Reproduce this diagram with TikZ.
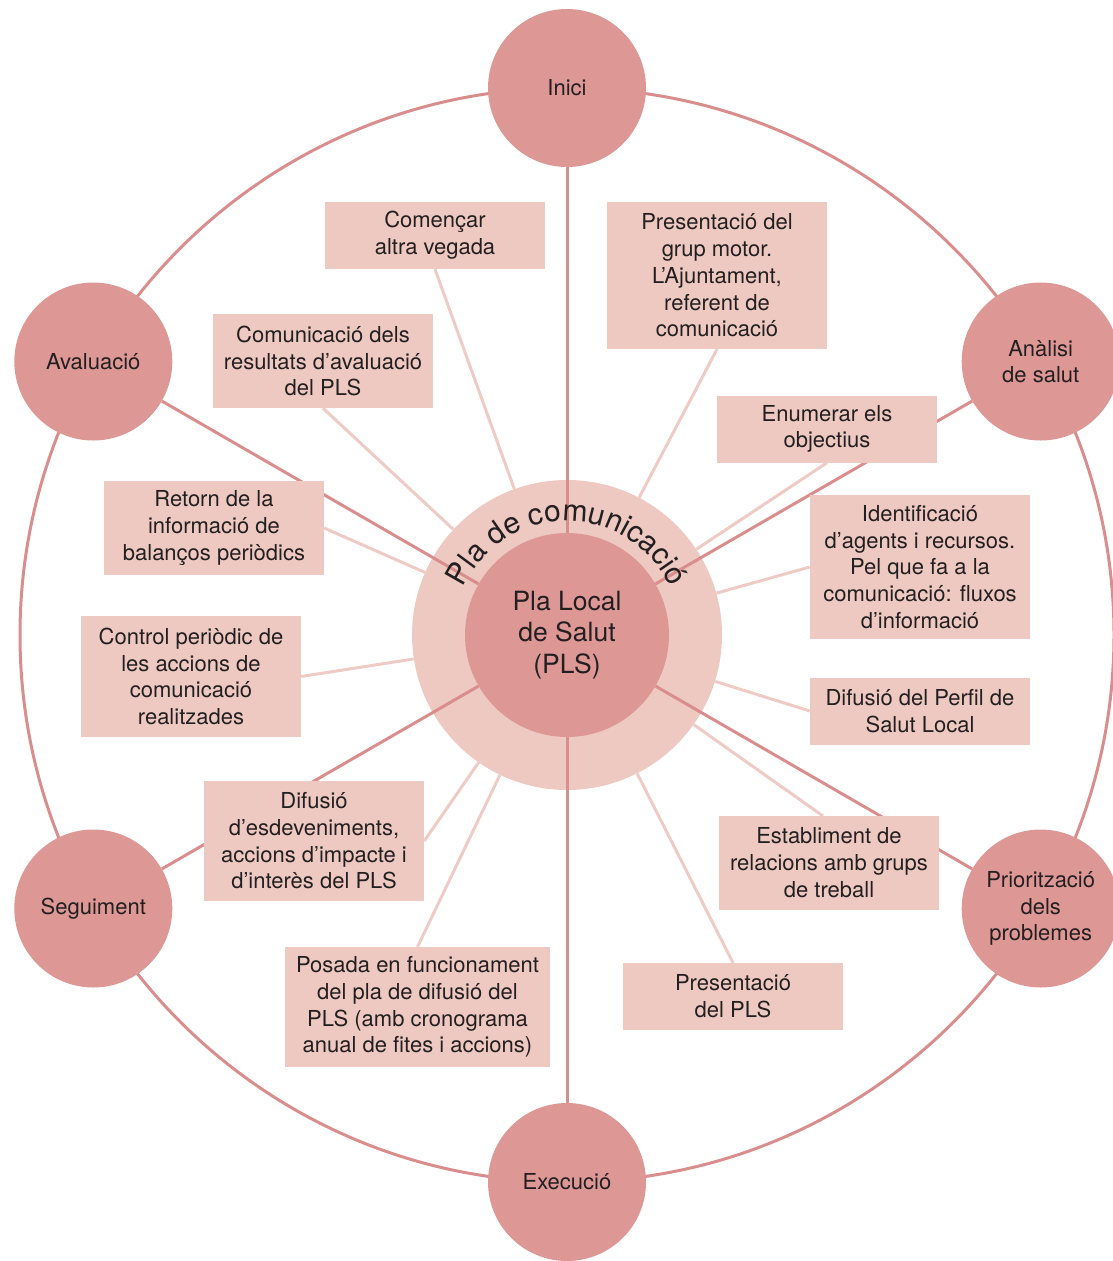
\documentclass[tikz,border=0pt]{standalone}
\usepackage{fontspec}
\setmainfont{TeX Gyre Heros}
\usetikzlibrary{decorations.text}
\definecolor{circfill}{HTML}{DD9896}
\definecolor{lightfill}{HTML}{EEC9C2}
\definecolor{darkline}{HTML}{D98E8D}
\definecolor{lightline}{HTML}{EFCBC5}
\definecolor{textc}{HTML}{231F20}
\pgfdeclarelayer{back}
\pgfdeclarelayer{mid}
\pgfsetlayers{back,mid,main}
\begin{document}
\begin{tikzpicture}[x=1pt,y=-1pt,
  stage/.style={circle,fill=circfill,minimum size=158pt,inner sep=0pt,align=center,text=textc,font=\fontsize{22}{26.5}\selectfont},
  box/.style={fill=lightfill,minimum width=220pt,inner sep=0pt,align=center,text=textc,font=\fontsize{22}{26.7}\selectfont},
  spoke/.style={draw=darkline,line width=3pt},
  twig/.style={draw=lightline,line width=3pt},
  rim/.style={draw=darkline,line width=3pt}]
\useasboundingbox (0,0) rectangle (1112,1261);
\coordinate (c) at (567,635);
\begin{pgfonlayer}{back}
  \draw[rim] (c) circle[radius=547];
  \node[circle,fill=lightfill,minimum size=310pt,inner sep=0pt] (ring) at (c) {};
\end{pgfonlayer}
\node[circle,fill=circfill,minimum size=204pt,inner sep=0pt,align=center,text=textc,font=\fontsize{26.5}{31.5}\selectfont] (pls) at (c) {Pla Local\\de Salut\\(PLS)};
\path[decorate,decoration={text along path,text align=center,text color=textc,text={|\fontsize{30}{30}\selectfont|Pla de comunicació}}] (453,635) arc[start angle=180,end angle=360,radius=114];
% stages
\node[stage] (inici) at (567,88) {Inici};
\node[stage] (anal) at (1040.7,361.5) {Anàlisi\\de salut};
\node[stage] (prio) at (1040.7,908.5) {Priorització\\dels\\problemes};
\node[stage] (exec) at (567,1182) {Execució};
\node[stage] (segu) at (93.3,908.5) {Seguiment};
\node[stage] (aval) at (93.3,361.5) {Avaluació};
% boxes
\node[box,minimum height=67pt] (b1) at (435,235.5) {Començar\\altra vegada};
\node[box,minimum height=147pt] (b2) at (717,275.5) {Presentació del\\grup motor.\\L’Ajuntament,\\referent de\\comunicació};
\node[box,minimum height=94pt] (b3) at (323,361) {Comunicació dels\\resultats d’avaluació\\del PLS};
\node[box,minimum height=67pt] (b4) at (827,429) {Enumerar els\\objectius};
\node[box,minimum height=94pt] (b5) at (214,528) {Retorn de la\\informació de\\balanços periòdics};
\node[box,minimum height=144pt] (b6) at (920,567) {Identificació\\d’agents i recursos.\\Pel que fa a la\\comunicació: fluxos\\d’informació};
\node[box,minimum height=121pt] (b7) at (191,676.5) {Control periòdic de\\les accions de\\comunicació\\realitzades};
\node[box,minimum height=67pt] (b8) at (920,711) {Difusió del Perfil de\\Salut Local};
\node[box,minimum height=120pt] (b9) at (314,841) {Difusió\\d’esdeveniments,\\accions d’impacte i\\d’interès del PLS};
\node[box,minimum height=94pt] (b10) at (829,862.5) {Establiment de\\relacions amb grups\\de treball};
\node[box,minimum width=265pt,minimum height=120pt] (b11) at (417.5,1007) {Posada en funcionament\\del pla de difusió del\\PLS (amb cronograma\\anual de fites i accions)};
\node[box,minimum height=67pt] (b12) at (733,996.5) {Presentació\\del PLS};
\coordinate (b10n) at (823,816);
% connectors
\begin{pgfonlayer}{mid}
  \foreach \s in {inici,anal,prio,exec,segu,aval} \draw[spoke] (\s) -- (pls);
  \draw[twig] (b1.south) -- (ring);
  \draw[twig] (b2.south) -- (ring);
  \draw[twig] (b3.south) -- (ring);
  \draw[twig] (b4.south) -- (ring);
  \draw[twig] (b5.east) -- (ring);
  \draw[twig] (b6.west) -- (ring);
  \draw[twig] (b7.east) -- (ring);
  \draw[twig] (b8.west) -- (ring);
  \draw[twig] (b9.east) -- (ring);
  \draw[twig] (b10n) -- (ring);
  \draw[twig] (b11.north) -- (ring);
  \draw[twig] (b12.north) -- (ring);
\end{pgfonlayer}
\end{tikzpicture}
\end{document}
